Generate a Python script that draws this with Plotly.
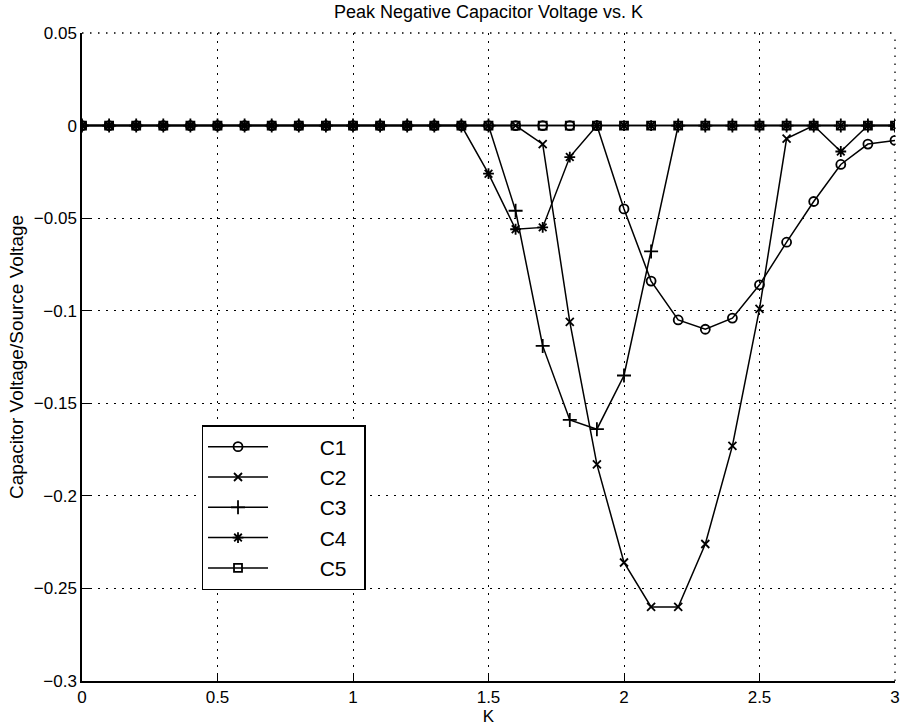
import plotly.graph_objects as go

K = [round(0.1 * i, 1) for i in range(31)]

c1 = [0]*20 + [-0.045, -0.084, -0.105, -0.110, -0.104, -0.086, -0.063, -0.041, -0.021, -0.010, -0.008]
c2 = [0]*17 + [-0.010, -0.106, -0.183, -0.236, -0.260, -0.260, -0.226, -0.173, -0.099, -0.007, 0, 0, 0, 0]
c3 = [0]*16 + [-0.046, -0.119, -0.159, -0.164, -0.135, -0.068, 0, 0, 0, 0, 0, 0, 0, 0, 0]
c4 = [0]*15 + [-0.026, -0.056, -0.055, -0.017, 0, 0, 0, 0, 0, 0, 0, 0, 0, -0.014, 0, 0]
c5 = [0]*31

names = ["C1", "C2", "C3", "C4", "C5"]
series = [c1, c2, c3, c4, c5]
symbols = ["circle-open", "x-thin-open", "cross-thin-open", "asterisk-open", "square-open"]
sizes = [9, 8, 10, 9, 8]

xticks = [0, 0.5, 1, 1.5, 2, 2.5, 3]
xticklabels = ["0", "0.5", "1", "1.5", "2", "2.5", "3"]
yticks = [0.05, 0, -0.05, -0.1, -0.15, -0.2, -0.25, -0.3]
yticklabels = ["0.05", "0", "\u22120.05", "\u22120.1", "\u22120.15", "\u22120.2", "\u22120.25", "\u22120.3"]

NB = "\u00a0"
fig = go.Figure()
for name, vals, sym, sz in zip(names, series, symbols, sizes):
    fig.add_trace(go.Scatter(
        x=K, y=vals, name=NB * 8 + name + NB * 2, mode="lines+markers",
        line=dict(color="black", width=1.5),
        marker=dict(symbol=sym, size=sz, color="black", line=dict(color="black", width=1.8)),
    ))

font = "Liberation Sans, Arial, sans-serif"
grid = dict(showgrid=True, gridcolor="black", griddash="1.5px,6.5px", gridwidth=1.3)
fig.update_layout(
    width=907, height=727,
    margin=dict(l=82, r=7, t=33, b=44),
    paper_bgcolor="white", plot_bgcolor="white",
    font=dict(family=font, color="black", size=14),
    title=dict(text="Peak Negative Capacitor Voltage vs. K", x=0.5, xref="paper",
               y=1 - 12/727, yref="container", yanchor="middle",
               font=dict(size=18, family=font)),
    showlegend=True,
    legend=dict(x=0.147, y=0.395, xanchor="left", yanchor="top",
                bordercolor="black", borderwidth=1.5, bgcolor="white",
                font=dict(size=21, family=font), itemwidth=60),
    shapes=[
        dict(type="line", xref="paper", yref="paper", x0=0, x1=1, y0=1, y1=1,
             line=dict(color="black", width=1.3, dash="1.5px,6.5px")),
        dict(type="line", xref="paper", yref="paper", x0=1, x1=1, y0=0, y1=1,
             line=dict(color="black", width=1.3, dash="1.5px,6.5px")),
    ],
)
fig.update_xaxes(
    range=[0, 3], tickvals=xticks, ticktext=xticklabels,
    showline=True, linecolor="black", linewidth=1.5, mirror=False,
    ticks="inside", ticklen=8, tickcolor="black",
    zeroline=False, tickfont=dict(size=17), **grid,
    title=dict(text="K", font=dict(size=17), standoff=1),
)
fig.update_yaxes(
    range=[-0.3, 0.05], tickvals=yticks, ticktext=yticklabels,
    showline=True, linecolor="black", linewidth=1.5, mirror=False,
    ticks="inside", ticklen=8, tickcolor="black",
    zeroline=False, tickfont=dict(size=17), **grid,
    title=dict(text="Capacitor Voltage/Source Voltage", font=dict(size=19), standoff=5),
)

fig.write_html("out.html")
